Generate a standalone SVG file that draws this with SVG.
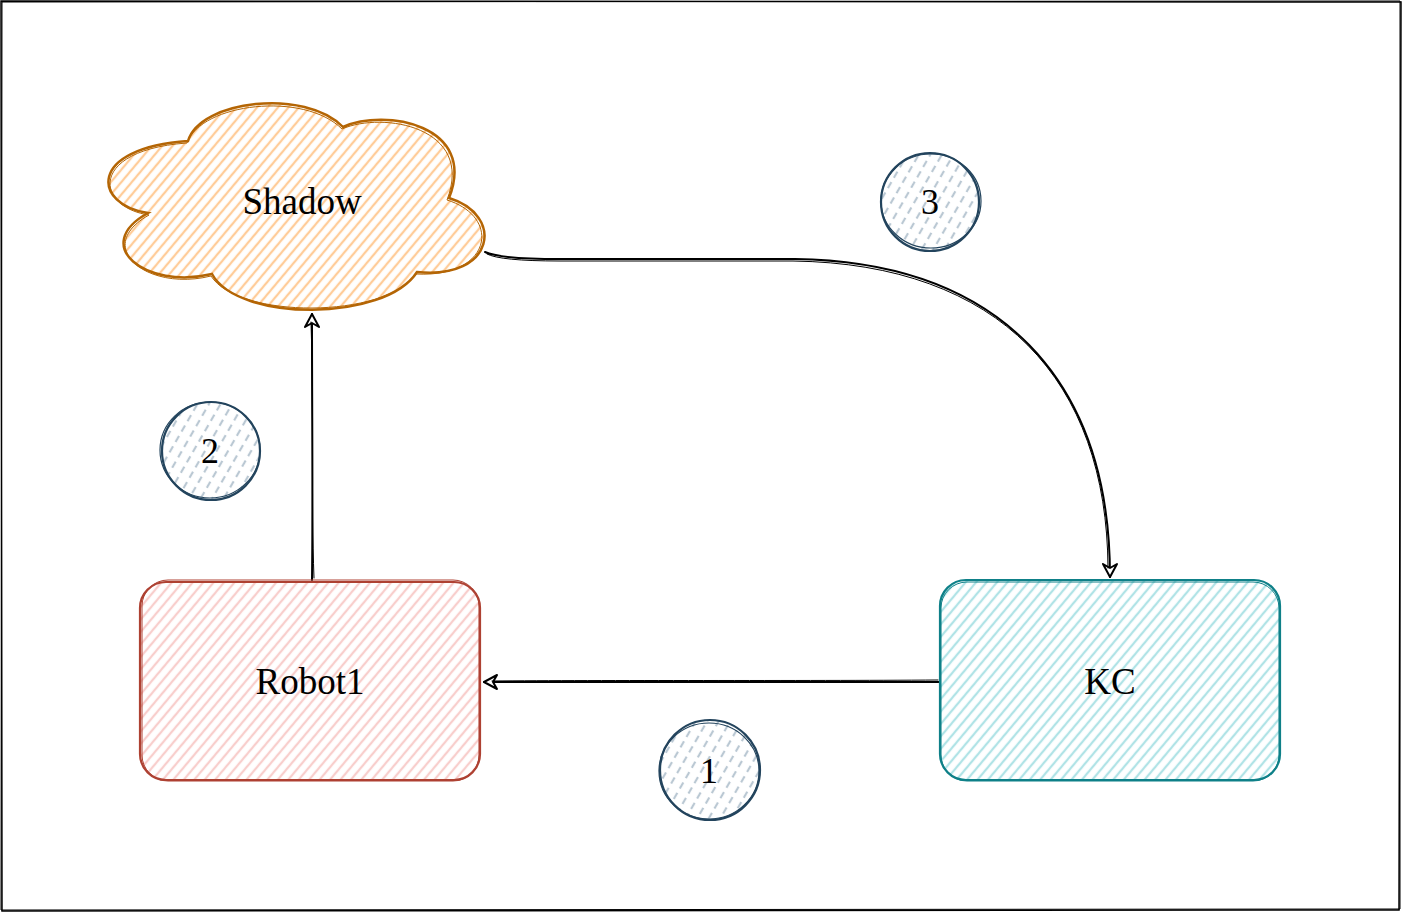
<svg xmlns="http://www.w3.org/2000/svg" width="1402" height="912" viewBox="0 0 1402 912">
<style>
.lbl{font-family:"Liberation Serif","Times New Roman",serif;font-size:37px;fill:#000;text-anchor:middle;dominant-baseline:central}
.num{font-family:"Liberation Serif","Times New Roman",serif;font-size:36px;fill:#000;text-anchor:middle;dominant-baseline:central}
.edge{fill:none;stroke:#000;stroke-width:2;stroke-linecap:round}
.edge2{fill:none;stroke:#000;stroke-width:1;stroke-linecap:round}
.circ{stroke:#23445d;stroke-width:2.2;fill:url(#hB)}
.circ2{stroke:#23445d;stroke-width:1.2;fill:none}
</style>
<defs>
<pattern id="hO" patternUnits="userSpaceOnUse" width="8" height="8" patternTransform="rotate(40)">
<line x1="2" y1="0" x2="2" y2="8" stroke="#ffcc99" stroke-width="2.3"/>
</pattern>
<pattern id="hR" patternUnits="userSpaceOnUse" width="8" height="8" patternTransform="rotate(40)">
<line x1="2" y1="0" x2="2" y2="8" stroke="#f8cecc" stroke-width="2.3"/>
</pattern>
<pattern id="hC" patternUnits="userSpaceOnUse" width="8" height="8" patternTransform="rotate(40)">
<line x1="2" y1="0" x2="2" y2="8" stroke="#b0e3e6" stroke-width="2.3"/>
</pattern>
<pattern id="hB" patternUnits="userSpaceOnUse" width="10" height="12" patternTransform="rotate(30)">
<line x1="3" y1="0" x2="3" y2="7" stroke="#bac8d3" stroke-width="2.2"/>
</pattern>
<marker id="arr" markerWidth="20" markerHeight="20" refX="15" refY="10" orient="auto" markerUnits="userSpaceOnUse">
<path d="M2,3 L15,10 L2,17 L6,10 Z" fill="#fff" stroke="#000" stroke-width="2" stroke-linejoin="round"/>
</marker>
</defs>
<rect x="0" y="0" width="1402" height="912" fill="#fff"/>
<g id="frame" fill="none" stroke="#000">
<path d="M1,1 L1401,2 L1399,910 L2,911 Z" stroke-width="1.5"/>
<path d="M2,2 L1400,1 L1400,909 L1,910 Z" stroke-width="1"/>
</g>
<g id="connectors">
<path class="edge" d="M312,580 C313,500 312,420 312,314" marker-end="url(#arr)"/>
<path class="edge2" d="M314,578 C311,500 314,420 311,322"/>
<path class="edge" d="M940,682 L484,682" marker-end="url(#arr)"/>
<path class="edge2" d="M938,680 C800,681 600,680 492,681"/>
<path class="edge" d="M485,252 Q500,259 560,259 L795,259 C1000,262 1110,380 1110,577" marker-end="url(#arr)"/>
<path class="edge2" d="M487,254 Q500,261 560,261 L793,261 C1000,264 1107,380 1108,568"/>
</g>
<g id="shadow">
<path d="M148,213 C93,205 86,148 188,141 C200,100 305,88 343,127 C385,108 478,125 449,198 C505,215 495,280 417,272 C385,322 238,322 212,274 C145,290 90,245 148,213 Z" fill="url(#hO)" stroke="#b46504" stroke-width="2.5"/>
<path d="M149,215 C95,207 88,150 187,143 C201,103 304,91 342,129 C383,111 475,127 447,200 C502,217 492,278 416,274 C385,319 238,319 211,276 C147,292 92,247 149,215 Z" fill="none" stroke="#b46504" stroke-width="1"/>
<text class="lbl" x="302" y="201">Shadow</text>
</g>
<g id="robot1">
<rect x="140" y="582" width="340" height="198" rx="26" fill="url(#hR)" stroke="#ae4132" stroke-width="2.2"/>
<rect x="142" y="580" width="337" height="201" rx="26" fill="none" stroke="#ae4132" stroke-width="1"/>
<text class="lbl" x="310" y="681">Robot1</text>
</g>
<g id="kc">
<rect x="940" y="580" width="340" height="200" rx="26" fill="url(#hC)" stroke="#0e8088" stroke-width="2.2"/>
<rect x="941" y="582" width="338" height="199" rx="26" fill="none" stroke="#0e8088" stroke-width="1"/>
<text class="lbl" x="1110" y="681">KC</text>
</g>
<g id="step3">
<circle class="circ" cx="930" cy="202" r="49"/>
<ellipse class="circ2" cx="931" cy="201" rx="50" ry="47"/>
<text class="num" x="930" y="202">3</text>
</g>
<g id="step2">
<circle class="circ" cx="211" cy="451" r="49"/>
<ellipse class="circ2" cx="210" cy="450" rx="50" ry="48"/>
<text class="num" x="210" y="451">2</text>
</g>
<g id="step1">
<circle class="circ" cx="710" cy="770" r="50"/>
<ellipse class="circ2" cx="709" cy="771" rx="50" ry="48"/>
<text class="num" x="709" y="771">1</text>
</g>
</svg>
